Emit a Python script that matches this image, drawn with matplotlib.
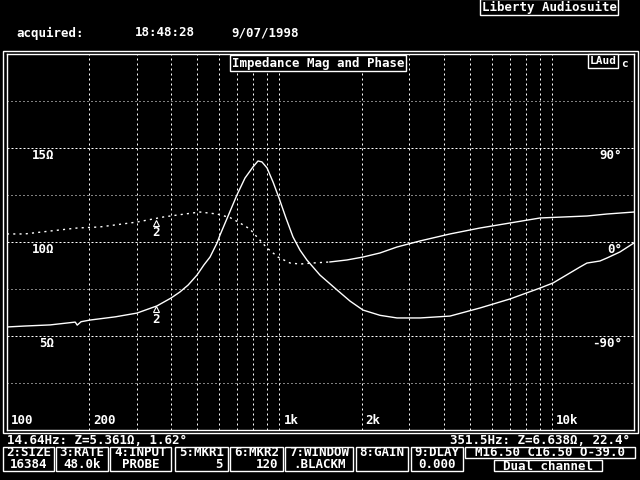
import numpy as np
import matplotlib.pyplot as plt
from matplotlib.patches import Rectangle
from matplotlib.transforms import ScaledTranslation

# impedance magnitude trace (ohm)
mag_freq = [100, 116, 144, 178, 181, 187, 202, 250, 300, 355, 400, 431, 462, 498, 528, 556, 590, 605,
            658, 698, 747, 799, 834, 862, 900, 947, 996, 1056, 1121, 1189, 1261, 1408,
            1626, 1814, 2025, 2338, 2699, 3278, 4224, 5442, 7013, 9040, 10090, 12670,
            13440, 15000, 15920, 17760, 20000]
mag_ohm = [5.48, 5.53, 5.59, 5.74, 5.58, 5.76, 5.85, 6.02, 6.22, 6.6, 7.02, 7.34, 7.71, 8.24, 8.78, 9.2, 9.95, 10.37,
           11.62, 12.5, 13.4, 13.99, 14.31, 14.26, 13.94, 13.19, 12.34, 11.28, 10.27, 9.57, 9.04, 8.24,
           7.45, 6.86, 6.38, 6.1, 5.96, 5.96, 6.06, 6.49, 6.97, 7.55, 7.82, 8.67,
           8.88, 8.99, 9.15, 9.47, 9.95]

# impedance phase trace (degrees)
ph_freq = [100, 116, 144, 181, 219, 300, 374, 421, 511, 590, 658, 716, 779, 827, 900, 987,
           1093, 1189, 1327, 1532, 1769, 2025, 2338, 2699, 3278, 4224, 5442, 7013, 9040,
           13440, 15920, 20000]
ph_deg = [7.7, 7.7, 10.5, 13.4, 14.4, 19.1, 23.9, 25.8, 28.7, 26.8, 23.4, 18.2, 12.4, 4.8, -5.7, -14.4,
          -20.1, -21.1, -20.1, -19.1, -17.2, -14.4, -10.5, -4.8, 1.0, 7.7, 13.4, 18.2, 23.0,
          24.9, 26.8, 28.7]
ph_split = 1532

# marker 2
mkr_freq = 351.5
mkr_mag = 6.638
mkr_phase = 22.4

x_grid = [100, 200, 300, 400, 500, 600, 700, 800, 900, 1000, 2000, 3000, 4000, 5000,
          6000, 7000, 8000, 9000, 10000]
x_labels = {100: '100', 200: '200', 1000: '1k', 2000: '2k', 10000: '10k'}
mag_major = [5, 10, 15]
mag_minor = [2.5, 7.5, 12.5, 17.5]
mag_labels = {15: '15Ω', 10: '10Ω', 5: '5Ω'}
ph_labels = {90: '90°', 0: '0°', -90: '-90°'}

buttons = [('2:SIZE', '16384', 3, 54), ('3:RATE', '48.0k', 56, 108),
           ('4:INPUT', 'PROBE', 110, 171), ('5:MKR1', '5', 175, 228),
           ('6:MKR2', '120', 230, 283), ('7:WINDOW', '.BLACKM', 285, 353),
           ('8:GAIN', '', 356, 408), ('9:DLAY', '0.000', 411, 463)]

W, H = 640, 480
FONT = dict(family='DejaVu Sans Mono', weight='bold', color='white', fontsize=9)

fig = plt.figure(figsize=(6.4, 4.8), dpi=100, facecolor='black')


def px(x, y):
    return x / W, 1 - y / H


def box(x1, y1, x2, y2, lw=1.0):
    fig.add_artist(Rectangle(px(x1, y2), (x2 - x1) / W, (y2 - y1) / H,
                             transform=fig.transFigure, fill=False,
                             edgecolor='white', linewidth=lw))


def label(x, y, s, ha='left', boxed=False, **kw):
    opts = dict(FONT)
    opts.update(kw)
    bb = None
    if boxed:
        bb = dict(boxstyle='square,pad=0.15', facecolor='black', edgecolor='white', linewidth=1)
    fig.text(*px(x, y), s, ha=ha, va='center', bbox=bb, **opts)


ax = fig.add_axes([7 / W, 1 - 430 / H, 627 / W, 376 / H])
ax.set_facecolor('black')
ax.set_xscale('log')
ax.set_xlim(100, 20000)
ax.set_ylim(0, 20)
ax.set_xticks([])
ax.set_yticks([])
ax.minorticks_off()
for sp in ax.spines.values():
    sp.set_color('white')
    sp.set_linewidth(1)

for f in x_grid:
    ax.axvline(f, color='white', lw=0.72, ls=(0, (2, 3)), zorder=1)
for v in mag_major:
    ax.axhline(v, color='white', lw=0.72, ls=(0, (2, 2)), zorder=1)
for v in mag_minor:
    ax.axhline(v, color='white', lw=0.72, ls=(0, (1, 3)), zorder=1)

ax.plot(mag_freq, mag_ohm, color='white', lw=1.0, zorder=3)

ax2 = ax.twinx()
ax2.set_ylim(-180, 180)
ax2.set_yticks([])
for sp in ax2.spines.values():
    sp.set_visible(False)
pf = np.array(ph_freq)
pd = np.array(ph_deg)
low = pf <= ph_split
high = pf >= ph_split
ax2.plot(pf[low], pd[low], color='white', lw=1.0, ls=(0, (1.5, 3)), zorder=3)
ax2.plot(pf[high], pd[high], color='white', lw=1.0, zorder=3)

# marker arrows with "2"
for a, val in ((ax, mkr_mag), (ax2, mkr_phase)):
    off = a.transData + ScaledTranslation(0, -3 / 72, fig.dpi_scale_trans)
    a.plot([mkr_freq], [val], marker='^', ms=4, mfc='black', mec='white', mew=0.8,
           transform=off, zorder=4)
    a.annotate('2', xy=(mkr_freq, val), xytext=(0, -5.5), textcoords='offset points',
               ha='center', va='top', zorder=4, **FONT)

for v, s in mag_labels.items():
    ax.annotate(s, xy=(0.075, v), xycoords=ax.get_yaxis_transform(), xytext=(0, -1),
                textcoords='offset points', ha='right', va='top', **FONT)
for v, s in ph_labels.items():
    ax2.annotate(s, xy=(0.981, v), xycoords=ax2.get_yaxis_transform(), xytext=(0, -1),
                 textcoords='offset points', ha='right', va='top', **FONT)
for f, s in x_labels.items():
    ax.annotate(s, xy=(f, 0), xycoords=ax.get_xaxis_transform(), xytext=(3, 2),
                textcoords='offset points', ha='left', va='bottom', **FONT)

# outer frame
box(3, 51, 638, 433)

# header
label(549, 7, 'Liberty Audiosuite', ha='center', boxed=True)
label(16, 33, 'acquired:')
label(135, 33, '18:48:28')
label(231, 33, '9/07/1998')
label(318, 63, 'Impedance Mag and Phase', ha='center', boxed=True)
label(603, 61, 'LAud', ha='center', boxed=True, fontsize=8)
label(625, 64, 'c', ha='center', fontsize=8)

# status lines
label(7, 440, '14.64Hz: Z=5.361Ω, 1.62°')
label(630, 440, '351.5Hz: Z=6.638Ω, 22.4°', ha='right')

for top, bottom, x1, x2 in buttons:
    box(x1, 447, x2, 471)
    label((x1 + x2) / 2, 453, top, ha='center')
    if bottom in ('5', '120'):
        label(x2 - 5, 465, bottom, ha='right')
    elif bottom:
        label((x1 + x2) / 2, 465, bottom, ha='center')

box(465, 447, 635, 458)
label(550, 453, 'M16.50 C16.50 O-39.0', ha='center')
box(494, 460, 602, 471)
label(548, 466, 'Dual channel', ha='center')

fig.savefig('out.png', dpi=100, facecolor='black')
